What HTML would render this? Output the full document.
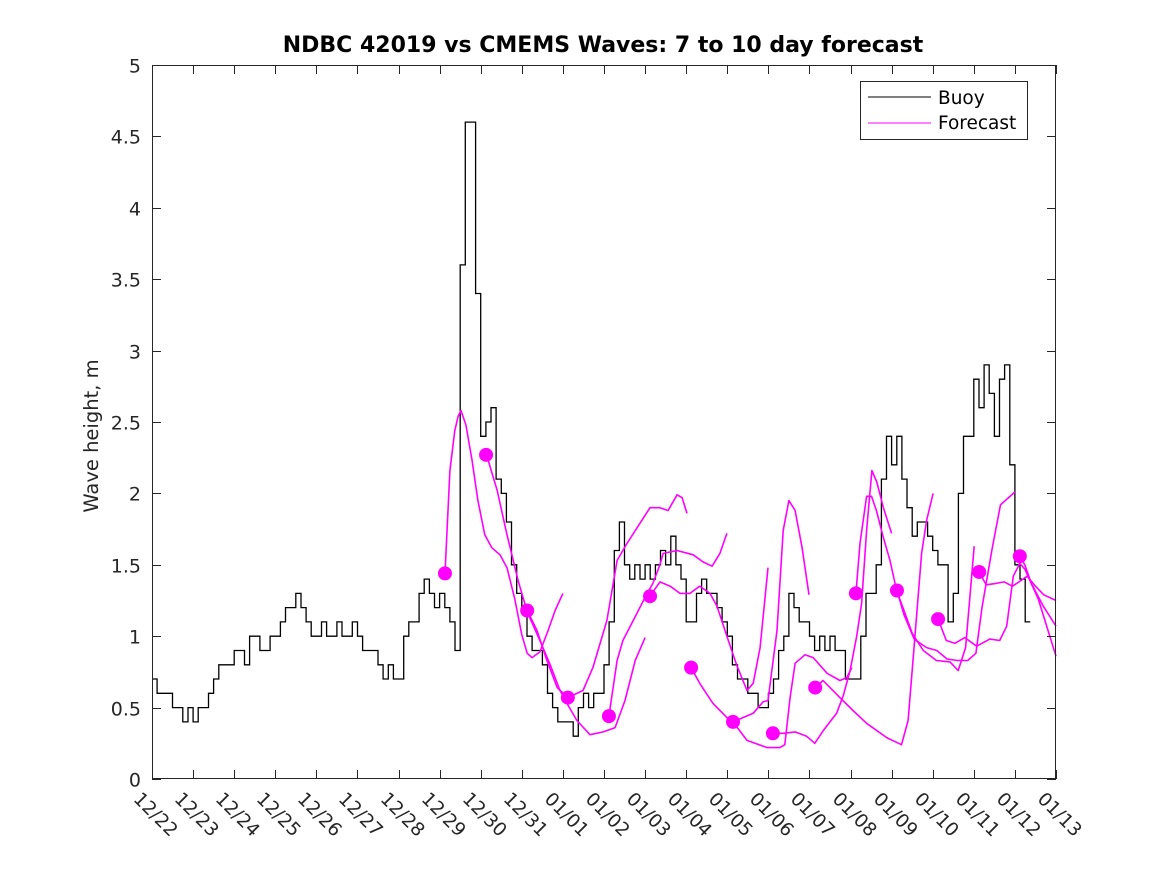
<!DOCTYPE html>
<html><head><meta charset="utf-8"><style>
html,body{margin:0;padding:0;background:#fff;}
svg{display:block;font-family:"DejaVu Sans","Liberation Sans",sans-serif;}
</style></head><body>
<svg id="chart" width="1167" height="875" viewBox="0 0 1167 875" xmlns="http://www.w3.org/2000/svg">
<rect width="1167" height="875" fill="#fff"/>
<text x="603" y="52" text-anchor="middle" font-size="22" font-weight="bold" fill="#000">NDBC 42019 vs CMEMS Waves: 7 to 10 day forecast</text>
<text transform="translate(98,436) rotate(-90)" text-anchor="middle" font-size="19.5" fill="#262626">Wave height, m</text>
<g id="plot"></g>
<g id="axes"></g>
<g>
<rect x="860.5" y="81.5" width="167" height="58" fill="#fff" stroke="#262626" stroke-width="1"/>
<line x1="868" y1="97" x2="931" y2="97" stroke="#000" stroke-width="1"/>
<text x="938" y="104" font-size="18.5" fill="#000">Buoy</text>
<line x1="868" y1="123" x2="931" y2="123" stroke="#ff00ff" stroke-width="1"/>
<text x="938" y="129" font-size="18.5" fill="#000">Forecast</text>
</g>
</svg>
<script>
const xTickLabels = ["12/22","12/23","12/24","12/25","12/26","12/27","12/28","12/29","12/30","12/31","01/01","01/02","01/03","01/04","01/05","01/06","01/07","01/08","01/09","01/10","01/11","01/12","01/13"];
const yTicks = [0,0.5,1,1.5,2,2.5,3,3.5,4,4.5,5];
const yTickLabels = ["0","0.5","1","1.5","2","2.5","3","3.5","4","4.5","5"];
// buoy values every 3 hours from 12/22 00:00
const buoyStep = 0.125;
const buoyValues = [
0.7,0.6,0.6,0.6,0.5,0.5,0.4,0.5,
0.4,0.5,0.5,0.6,0.7,0.8,0.8,0.8,
0.9,0.9,0.8,1.0,1.0,0.9,0.9,1.0,
1.0,1.1,1.2,1.2,1.3,1.2,1.1,1.0,
1.0,1.1,1.0,1.0,1.1,1.0,1.0,1.1,
1.0,0.9,0.9,0.9,0.8,0.7,0.8,0.7,
0.7,1.0,1.1,1.1,1.3,1.4,1.3,1.2,
1.3,1.2,1.1,0.9,3.6,4.6,4.6,3.4,
2.4,2.5,2.6,2.1,2.0,1.8,1.5,1.3,
1.2,1.0,0.9,0.9,0.8,0.6,0.5,0.4,
0.4,0.4,0.3,0.5,0.6,0.5,0.6,0.6,
0.8,1.1,1.6,1.8,1.5,1.4,1.5,1.4,
1.5,1.4,1.5,1.6,1.5,1.7,1.5,1.4,
1.1,1.1,1.3,1.4,1.3,1.3,1.2,1.1,
1.0,0.8,0.7,0.7,0.6,0.6,0.5,0.5,
0.6,0.7,0.9,1.0,1.3,1.2,1.1,1.1,
1.0,0.9,1.0,0.9,1.0,0.9,0.9,0.7,
0.7,0.7,1.0,1.3,1.3,1.5,2.1,2.4,
2.2,2.4,2.1,1.9,1.7,1.8,1.8,1.7,
1.6,1.5,1.5,1.1,1.3,2.0,2.4,2.4,
2.8,2.6,2.9,2.7,2.4,2.8,2.9,2.2,
1.5,1.4,1.1];
const dotDays = [7.13,8.13,9.13,10.12,11.12,12.12,13.12,14.14,15.11,16.14,17.13,18.13,19.13,20.13,21.12];
const dotValues = [1.44,2.27,1.18,0.57,0.44,1.28,0.78,0.40,0.32,0.64,1.30,1.32,1.12,1.45,1.56];
const fc1Days = [7.13,7.25,7.37,7.45,7.52,7.64,7.79,7.93,8.10,8.27,8.47,8.64,8.83,9.0,9.13,9.25,9.44,9.64,9.81,10.0];
const fc1Vals = [1.44,2.16,2.44,2.54,2.58,2.48,2.23,1.95,1.71,1.62,1.57,1.48,1.26,1.01,0.88,0.85,0.89,1.04,1.18,1.30];
const fc2Days = [8.13,8.40,8.64,8.91,9.13,9.44,9.69,9.93,10.12,10.34,10.66,10.98,11.27,11.51,11.76,12.0];
const fc2Vals = [2.28,2.02,1.71,1.39,1.17,0.97,0.80,0.62,0.52,0.41,0.31,0.33,0.36,0.55,0.83,0.99];
const fc3Days = [9.13,9.37,9.61,9.86,10.12,10.49,10.73,11.07,11.32,11.56,12.12,12.36,12.56,12.78,12.90,13.02];
const fc3Vals = [1.18,1.04,0.83,0.64,0.57,0.62,0.78,1.11,1.53,1.65,1.90,1.90,1.88,1.99,1.97,1.86];
const fc4Days = [11.12,11.32,11.46,11.80,12.05,12.19,12.36,12.44,12.78,13.17,13.41,13.63,13.82,13.99];
const fc4Vals = [0.44,0.83,0.97,1.16,1.30,1.37,1.50,1.58,1.60,1.57,1.52,1.49,1.58,1.72];
const fc5Days = [12.12,12.36,12.61,12.85,13.09,13.33,13.58,13.75,13.99,14.24,14.48,14.63,14.80,14.99];
const fc5Vals = [1.28,1.38,1.35,1.30,1.30,1.35,1.30,1.21,1.00,0.79,0.62,0.67,0.92,1.48];
const fc6Days = [13.12,13.33,13.65,13.99,14.14,14.48,14.97,15.28,15.40,15.53,15.65,15.89,16.09,16.43,16.74,16.91,17.03];
const fc6Vals = [0.78,0.67,0.53,0.43,0.40,0.27,0.22,0.22,0.24,0.57,0.81,0.87,0.85,0.74,0.69,0.71,0.78];
const fc7Days = [14.14,14.38,14.63,14.87,14.99,15.21,15.36,15.50,15.65,15.82,15.99];
const fc7Vals = [0.40,0.43,0.46,0.54,0.55,1.04,1.74,1.95,1.88,1.62,1.29];
const fc8Days = [15.11,15.37,15.65,15.93,16.13,16.34,16.66,16.82,16.99,17.15,17.27,17.39,17.52,17.64,17.80,18.0];
const fc8Vals = [0.32,0.32,0.33,0.30,0.25,0.34,0.46,0.58,0.76,1.0,1.23,1.74,2.16,2.08,1.90,1.72];
const fc9Days = [16.14,16.33,16.74,17.06,17.39,17.88,18.24,18.40,18.52,18.73,18.85,19.01];
const fc9Vals = [0.64,0.69,0.57,0.48,0.39,0.29,0.24,0.41,0.83,1.58,1.81,2.0];
const fc10Days = [17.13,17.23,17.39,17.51,17.63,17.79,17.96,18.12,18.30,18.50,18.77,19.09,19.42,19.62,19.80,20.01];
const fc10Vals = [1.30,1.65,1.98,1.98,1.88,1.70,1.53,1.32,1.18,1.02,0.90,0.83,0.82,0.76,0.92,1.63];
const fc11Days = [18.13,18.30,18.55,18.85,19.10,19.35,19.60,19.85,20.05,20.20,20.45,20.65,21.0];
const fc11Vals = [1.32,1.15,0.98,0.92,0.90,0.84,0.83,0.83,0.88,1.20,1.62,1.92,2.01];
const fc12Days = [19.13,19.33,19.54,19.78,20.07,20.39,20.63,20.80,20.96,21.12,21.24,21.57,22.0];
const fc12Vals = [1.12,0.97,0.95,0.99,0.93,0.98,0.97,1.07,1.42,1.51,1.47,1.26,0.86];
const fc13Days = [20.13,20.30,20.54,20.74,20.94,21.10,21.30,21.50,21.70,22.0];
const fc13Vals = [1.45,1.36,1.37,1.38,1.35,1.38,1.42,1.35,1.29,1.25];
const fc14Days = [21.12,21.24,21.40,21.69,22.0];
const fc14Vals = [1.56,1.50,1.37,1.21,1.07];

const NS = "http://www.w3.org/2000/svg";
const X0 = 152, X1 = 1056, Y0 = 779, Y1 = 65;
const xScale = d => X0 + d * (X1 - X0) / 22;
const yScale = v => Y0 - v * (Y0 - Y1) / 5;
const plot = document.getElementById('plot');
const axes = document.getElementById('axes');
function mk(tag, attrs, parent){ const e = document.createElementNS(NS, tag); for (const k in attrs) e.setAttribute(k, attrs[k]); parent.appendChild(e); return e; }

// buoy line drawn as steps
let bpts = [];
buoyValues.forEach((v,i)=>{
  const x0 = xScale(i*buoyStep), x1 = xScale((i+1)*buoyStep), y = yScale(v);
  bpts.push(x0.toFixed(1)+','+y.toFixed(1));
  bpts.push(x1.toFixed(1)+','+y.toFixed(1));
});
const buoy = mk('polyline', {points: bpts.join(' '), fill:'none', stroke:'#000', 'stroke-width':1.3, 'stroke-linejoin':'miter'}, plot);



const forecasts = [[fc1Days,fc1Vals],[fc2Days,fc2Vals],[fc3Days,fc3Vals],[fc4Days,fc4Vals],[fc5Days,fc5Vals],[fc6Days,fc6Vals],[fc7Days,fc7Vals],[fc8Days,fc8Vals],[fc9Days,fc9Vals],[fc10Days,fc10Vals],[fc11Days,fc11Vals],[fc12Days,fc12Vals],[fc13Days,fc13Vals],[fc14Days,fc14Vals]];
forecasts.forEach((f,k)=>{
  const pts = f[0].map((d,i)=>xScale(Math.min(d,22)).toFixed(1)+','+yScale(f[1][i]).toFixed(1)).join(' ');
  const pl = mk('polyline', {points: pts, fill:'none', stroke:'#ff00ff', 'stroke-width':1.6, 'stroke-linejoin':'round'}, plot);
  
  
});
dotDays.forEach((d,i)=>{
  const c = mk('circle', {cx: xScale(d), cy: yScale(dotValues[i]), r: 7, fill:'#ff00ff'}, plot);
  
  
});

// axes box
const box = mk('rect', {x:X0+0.5, y:Y1+0.5, width:X1-X0-1, height:Y0-Y1-1, fill:'none', stroke:'#262626', 'stroke-width':1}, axes);


xTickLabels.forEach((lab,i)=>{
  const x = Math.round(xScale(i))+0.5;
  mk('line', {x1:x, y1:Y0, x2:x, y2:Y0-9, stroke:'#262626'}, axes);
  mk('line', {x1:x, y1:Y1, x2:x, y2:Y1+9, stroke:'#262626'}, axes);
  const t = mk('text', {transform:'translate('+(x-20)+',800) rotate(45)', 'font-size':18.5, fill:'#262626'}, axes);
  t.textContent = lab;
  
  
});
yTicks.forEach((v,i)=>{
  const y = Math.round(yScale(v))+0.5;
  mk('line', {x1:X0, y1:y, x2:X0+9, y2:y, stroke:'#262626'}, axes);
  mk('line', {x1:X1, y1:y, x2:X1-9, y2:y, stroke:'#262626'}, axes);
  const t = mk('text', {x:141, y:y+7, 'text-anchor':'end', 'font-size':19, fill:'#262626'}, axes);
  t.textContent = yTickLabels[i];
  
  
});
</script>
</body></html>
